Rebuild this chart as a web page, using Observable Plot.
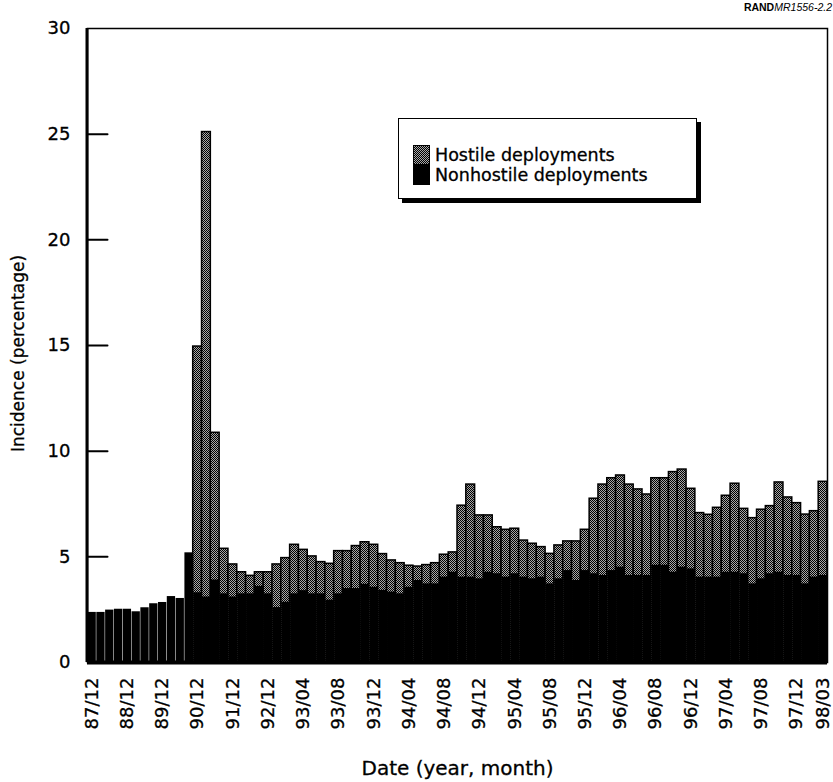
<!DOCTYPE html>
<html><head><meta charset="utf-8">
<script src="https://cdn.jsdelivr.net/npm/d3@7"></script>
<script src="https://cdn.jsdelivr.net/npm/@observablehq/plot@0.6"></script>
<style>
body{margin:0;background:#fff;}
#wrap{position:relative;width:833px;height:782px;font-family:"DejaVu Sans",sans-serif;color:#000;}
#wrap svg text{stroke:#000;stroke-width:0.3px;}
#legend{position:absolute;left:398px;top:118px;width:299px;height:81px;border:1.5px solid #000;box-shadow:4px 4px 0 #000;background:#fff;box-sizing:border-box;}
.item{position:absolute;left:14px;display:flex;align-items:center;font-size:17.5px;line-height:20px;height:20px;-webkit-text-stroke:0.3px #000;}
.sw{width:17px;height:20px;box-sizing:border-box;border:1.5px solid #000;margin-right:5px;}
.sw.h{background:repeating-conic-gradient(#000 0 25%, #a8a8a8 0 50%) 0 0/2px 2px;}
.sw.n{background:#000;}
#rand{position:absolute;right:1px;top:1px;font:10.5px "Liberation Sans",sans-serif;}
</style></head><body><div id="wrap"></div>
<script>
// Categories: quarterly 87/12–92/12, then monthly 93/01–98/03
const dates = [
  "87/12","88/03","88/06","88/09","88/12","89/03","89/06","89/09","89/12","90/03","90/06","90/09","90/12",
  "91/03","91/06","91/09","91/12","92/03","92/06","92/09","92/12",
  "93/01","93/02","93/03","93/04","93/05","93/06","93/07","93/08","93/09","93/10","93/11","93/12",
  "94/01","94/02","94/03","94/04","94/05","94/06","94/07","94/08","94/09","94/10","94/11","94/12",
  "95/01","95/02","95/03","95/04","95/05","95/06","95/07","95/08","95/09","95/10","95/11","95/12",
  "96/01","96/02","96/03","96/04","96/05","96/06","96/07","96/08","96/09","96/10","96/11","96/12",
  "97/01","97/02","97/03","97/04","97/05","97/06","97/07","97/08","97/09","97/10","97/11","97/12",
  "98/01","98/02","98/03"
];
const hostile = [
  null,null,null,null,null,null,null,null,null,null,null,null,14.95,
  25.1,10.87,5.38,4.64,4.27,4.10,4.27,4.27,
  4.64,4.94,5.57,5.33,5.02,4.75,4.67,5.27,5.27,5.51,5.69,5.57,
  5.13,4.83,4.70,4.58,4.54,4.61,4.70,5.10,5.21,7.42,8.42,6.96,
  6.96,6.40,6.28,6.33,5.77,5.62,5.46,5.14,5.54,5.73,5.73,6.28,
  7.75,8.42,8.72,8.85,8.42,8.19,7.95,8.72,8.72,9.01,9.13,8.22,
  7.07,6.99,7.32,7.89,8.46,7.27,6.83,7.23,7.40,8.52,7.81,7.54,
  7.00,7.16,8.55
];
const nonhostile = [
  2.37,2.37,2.48,2.52,2.52,2.40,2.59,2.78,2.84,3.12,3.03,5.19,3.30,
  3.10,3.90,3.25,3.10,3.25,3.25,3.60,3.25,
  2.60,2.85,3.25,3.40,3.25,3.25,2.95,3.25,3.50,3.50,3.70,3.56,
  3.41,3.33,3.25,3.56,3.88,3.72,3.72,4.04,4.27,4.04,4.04,3.96,
  4.27,4.20,4.04,4.20,4.04,3.96,4.04,3.72,3.96,4.35,3.88,4.35,
  4.20,4.12,4.35,4.51,4.12,4.12,4.12,4.60,4.60,4.27,4.51,4.43,
  4.04,4.04,4.04,4.27,4.27,4.20,3.72,3.96,4.20,4.27,4.12,4.12,
  3.72,4.04,4.12
];
const xTickLabels = ["87/12","88/12","89/12","90/12","91/12","92/12","93/04","93/08","93/12","94/04","94/08",
  "94/12","95/04","95/08","95/12","96/04","96/08","96/12","97/04","97/08","97/12","98/03"];
const yTicks = [0,5,10,15,20,25,30];
const legendLabels = ["Hostile deployments","Nonhostile deployments"];

const data = dates.map((d,i)=>({date:d, hostile:hostile[i], nonhostile:nonhostile[i]}));

const lineShape = {draw(context, l){ context.moveTo(0,0); context.lineTo(0,-l); }};
function leftAxisLine(index, scales, values, dims){
  return d3.create("svg:line")
    .attr("x1", dims.marginLeft).attr("x2", dims.marginLeft)
    .attr("y1", dims.marginTop).attr("y2", dims.height - dims.marginBottom)
    .attr("stroke","#000").attr("stroke-width",3).node();
}

const chart = Plot.plot({
  width: 833, height: 782,
  marginLeft: 87, marginRight: 6, marginTop: 28, marginBottom: 120,
  style: {fontFamily: "'DejaVu Sans', sans-serif", background: "#fff", color: "#000"},
  x: {type: "band", domain: dates, padding: 0, label: null},
  y: {domain: [0,30], label: null},
  marks: [
    Plot.barY(data.filter(d=>d.hostile!=null), {x:"date", y:"hostile", fill:"url(#stip)", stroke:"#000", strokeWidth:1.5}),
    Plot.barY(data, {x:"date", y:"nonhostile", fill:"#000", insetLeft:0.5}),
    Plot.ruleY([0], {stroke:"#000", strokeWidth:4}),
    Plot.frame({stroke:"#000", strokeWidth:1.5}),
    leftAxisLine,
    Plot.vector(yTicks.filter(v=>v>0 && v<30), {y:d=>d, frameAnchor:"left", rotate:90, length:20, anchor:"start", shape:lineShape, stroke:"#000", strokeWidth:2}),
    Plot.axisY(yTicks, {tickSize:0, tickPadding:17, fontSize:18, label:null}),
    Plot.axisX(xTickLabels, {tickRotate:-90, tickSize:0, tickPadding:15, fontSize:18, label:null}),
    Plot.text(["Incidence (percentage)"], {text:d=>d, frameAnchor:"left", textAnchor:"middle", lineAnchor:"middle", dx:-69, dy:8, rotate:-90, fontSize:17}),
    Plot.text(["Date (year, month)"], {text:d=>d, frameAnchor:"bottom", textAnchor:"middle", lineAnchor:"middle", dy:106, fontSize:20})
  ]
});

const defs = d3.select(chart).insert("defs", ":first-child");
const pat = defs.append("pattern").attr("id","stip").attr("width",2).attr("height",2).attr("patternUnits","userSpaceOnUse");
pat.append("rect").attr("width",2).attr("height",2).attr("fill","#a8a8a8");
pat.append("rect").attr("width",1).attr("height",1).attr("fill","#000");
pat.append("rect").attr("x",1).attr("y",1).attr("width",1).attr("height",1).attr("fill","#000");

const wrap = document.getElementById("wrap");
wrap.appendChild(chart);

const legend = document.createElement("div");
legend.id = "legend";
legendLabels.forEach((lab,i)=>{
  const it = document.createElement("div");
  it.className = "item";
  it.style.top = (26 + i*20) + "px";
  const sw = document.createElement("div");
  sw.className = "sw " + (i===0 ? "h" : "n");
  const tx = document.createElement("span");
  tx.textContent = lab;
  it.appendChild(sw); it.appendChild(tx);
  legend.appendChild(it);
});
wrap.appendChild(legend);

const rand = document.createElement("div");
rand.id = "rand";
rand.innerHTML = "<b>RAND</b><i>MR1556-2.2</i>";
wrap.appendChild(rand);
</script></body></html>
